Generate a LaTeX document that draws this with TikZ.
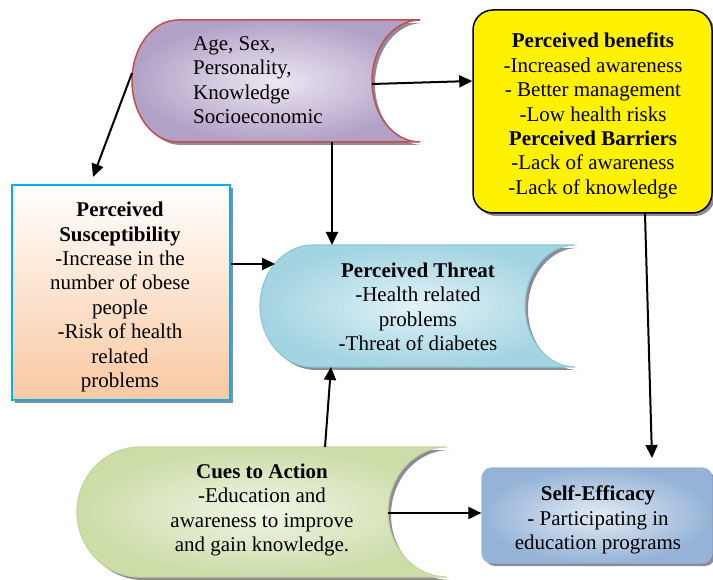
\documentclass[tikz,border=0pt]{standalone}
\usepackage{fontspec}
\setmainfont{Liberation Serif}
\usetikzlibrary{arrows.meta,shadows}
\definecolor{lavlight}{HTML}{ECE8F2}
\definecolor{lavdark}{HTML}{B2A1C7}
\definecolor{redline}{HTML}{C0504D}
\definecolor{peach}{HTML}{FAC8A0}
\definecolor{cyanline}{HTML}{00B0F0}
\definecolor{aqualight}{HTML}{E2F2F7}
\definecolor{aquadark}{HTML}{A3D4E2}
\definecolor{aqualine}{HTML}{8DC8D8}
\definecolor{sagelight}{HTML}{F0F5E6}
\definecolor{sagedark}{HTML}{CCDDA8}
\definecolor{sageline}{HTML}{C3D69B}
\definecolor{steellight}{HTML}{E4ECF5}
\definecolor{steeldark}{HTML}{95B3D7}
\definecolor{shadegray}{HTML}{8E8A96}
% stored-data outline: #1 options, #2 left, #3 right, #4 top, #5 bottom, #6 bulge, #7 notch
\newcommand\storedshape[7]{%
  \path[#1] ({#2+#6},#4) -- (#3,#4)
    .. controls ({#3-0.552*#7},#4) and ({#3-#7},{(#4+#5)/2-0.276*(#5-#4)}) .. ({#3-#7},{(#4+#5)/2})
    .. controls ({#3-#7},{(#4+#5)/2+0.276*(#5-#4)}) and ({#3-0.552*#7},#5) .. (#3,#5)
    -- ({#2+#6},#5)
    .. controls ({#2+0.448*#6},#5) and (#2,{(#4+#5)/2+0.276*(#5-#4)}) .. (#2,{(#4+#5)/2})
    .. controls (#2,{(#4+#5)/2-0.276*(#5-#4)}) and ({#2+0.448*#6},#4) .. cycle;}

\begin{document}
\begin{tikzpicture}[x=1pt, y=-1pt, font=\fontsize{21}{24.4}\selectfont,
  arr/.style={line width=2pt, -{Triangle[length=13pt,width=12pt]}},
  tapeshadow/.style={fill=shadegray, shift={(3,3)}},
  boxshadow/.style={drop shadow={shadow xshift=3pt, shadow yshift=-3pt, fill=shadegray, opacity=1}}]
  \useasboundingbox (0,0) rectangle (713,580);

  % tape shapes
  \storedshape{tapeshadow}{132}{420}{20}{142}{46}{48}
  \storedshape{inner color=lavlight, outer color=lavdark, draw=redline, line width=1.5pt}{132}{420}{20}{142}{46}{48}
  \storedshape{tapeshadow}{260}{575}{245}{367}{53}{50}
  \storedshape{inner color=aqualight, outer color=aquadark, draw=aqualine, line width=1.2pt}{260}{575}{245}{367}{53}{50}
  \storedshape{tapeshadow}{77}{447}{447}{577}{63}{59}
  \storedshape{inner color=sagelight, outer color=sagedark, draw=sageline, line width=1.2pt}{77}{447}{447}{577}{63}{59}

  \node[align=left, anchor=west, inner sep=0pt] (factors) at (193,80) {Age, Sex,\\Personality,\\Knowledge\\Socioeconomic};
  \node[align=center, inner sep=0pt] (threat) at (418,307) {\textbf{Perceived Threat}\\-Health related\\problems\\-Threat of diabetes};
  \node[align=center, inner sep=0pt] (cues) at (262,510) {\textbf{Cues to Action}\\-Education and\\awareness to improve\\and gain knowledge.};

  % boxes
  \node[draw, fill=yellow, line width=1.5pt, rounded corners=20pt, minimum width=239pt, minimum height=203pt, boxshadow] (benefits) at (592.5,111.5) {};
  \node[draw=cyanline, top color=white, bottom color=peach, line width=1.5pt, minimum width=218pt, minimum height=215pt, boxshadow] (suscept) at (121,292.5) {};
  \node[draw=steeldark, inner color=steellight, outer color=steeldark, line width=1.2pt, rounded corners=10pt, minimum width=230pt, minimum height=95pt, boxshadow] (efficacy) at (597,515.5) {};
  \node[align=center, inner sep=0pt] (benefitstxt) at (593,116)
    {\textbf{Perceived benefits}\\-Increased awareness\\- Better management\\-Low health risks\\\textbf{Perceived Barriers}\\-Lack of awareness\\-Lack of knowledge};
  \node[align=center, inner sep=0pt] (suscepttxt) at (120,297)
    {\textbf{Perceived}\\\textbf{Susceptibility}\\-Increase in the\\number of obese\\people\\-Risk of health\\related\\ problems};
  \node[align=center, inner sep=0pt] (efficacytxt) at (598,520)
    {\textbf{Self-Efficacy}\\- Participating in\\education programs};

  % connector ends on the tape outlines
  \coordinate (factors-w) at (132,73);
  \coordinate (factors-e) at (372,84);
  \coordinate (factors-s) at (332,142);
  \coordinate (suscept-in) at (93,177);
  \coordinate (threat-n) at (332,245);
  \coordinate (threat-w) at (275,264);
  \coordinate (threat-s) at (331,367);
  \coordinate (cues-n) at (325,447);
  \coordinate (cues-e) at (388,513);
  \coordinate (efficacy-in) at (652,458);

  \draw[arr] (factors-w) -- (suscept-in);
  \draw[arr] (factors-e) -- (benefits.west |- 0,81);
  \draw[arr] (factors-s) -- (threat-n);
  \draw[arr] (suscept.east |- 0,264) -- (threat-w);
  \draw[arr] (cues-n) -- (threat-s);
  \draw[arr] (cues-e) -- (efficacy.west |- cues-e);
  \draw[arr] (benefits.south -| 645,0) -- (efficacy-in);
\end{tikzpicture}
\end{document}
